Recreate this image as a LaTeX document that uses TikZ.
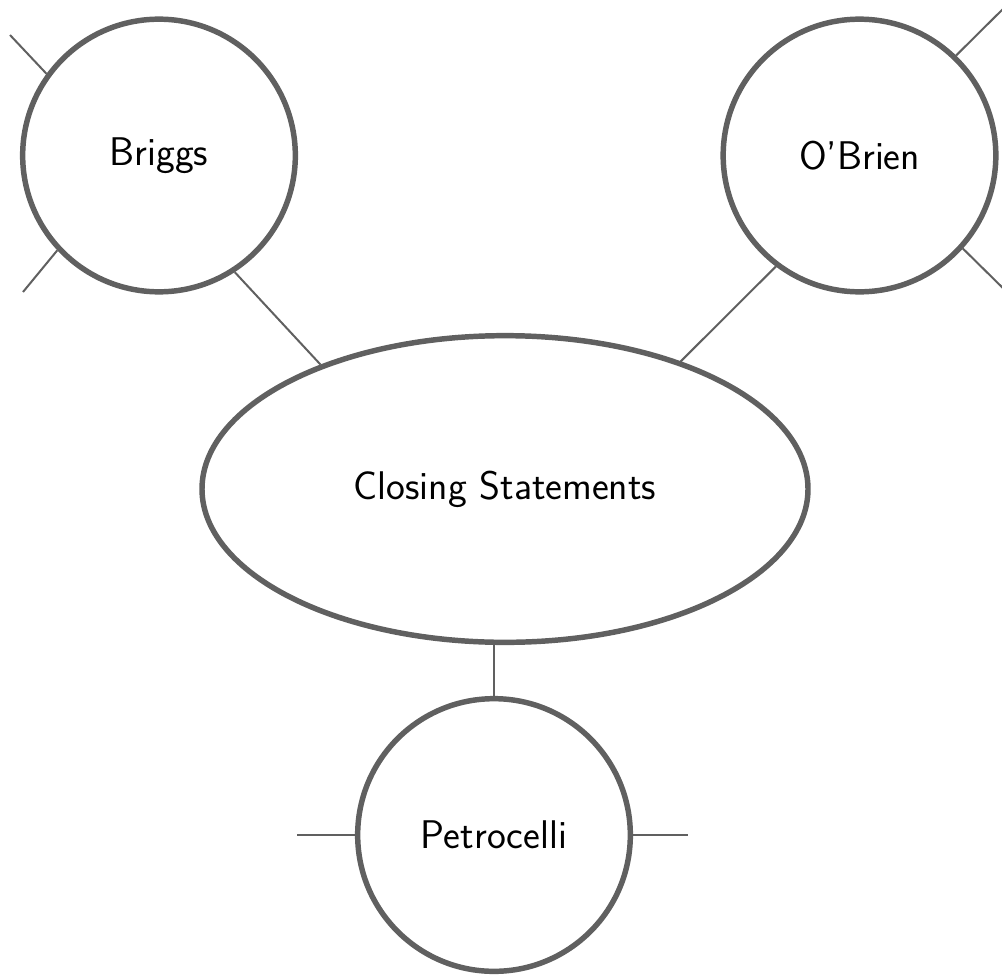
\documentclass[tikz,border=0pt]{standalone}
\usepackage{tikz}
\usetikzlibrary{shapes}
\definecolor{ringgray}{RGB}{96,96,96}

\begin{document}
\begin{tikzpicture}[x=0.75pt, y=-0.75pt,
  person/.style={circle, draw=ringgray, line width=4.1pt, minimum size=204.5pt, inner sep=0pt, font=\fontsize{30}{36}\selectfont\sffamily},
  topic/.style={ellipse, draw=ringgray, line width=4.1pt, minimum width=454.5pt, minimum height=230pt, font=\fontsize{30}{36}\selectfont\sffamily},
  link/.style={draw=ringgray, line width=1.5pt}]
  \useasboundingbox (0,0) rectangle (1002,974);
  \node[topic] (closing) at (505,489) {Closing Statements};
  \node[person] (briggs) at (159,155.5) {Briggs};
  \node[person] (obrien) at (859.5,155.5) {O'Brien};
  \node[person] (petrocelli) at (494,835) {Petrocelli};
  \coordinate (briggs-up) at (10,35);
  \coordinate (briggs-down) at (23,292);
  \coordinate (obrien-up) at (1010,2);
  \coordinate (obrien-down) at (1012,297);
  \coordinate (petrocelli-left) at (297,835);
  \coordinate (petrocelli-right) at (688,835);
  \draw[link] (briggs.-57) -- (closing.146);
  \draw[link] (obrien.-127.7) -- (closing.36);
  \draw[link] (petrocelli.north |- closing.south) -- (petrocelli.north);
  \draw[link] (briggs.144) -- (briggs-up);
  \draw[link] (briggs.223) -- (briggs-down);
  \draw[link] (obrien.46) -- (obrien-up);
  \draw[link] (obrien.-42) -- (obrien-down);
  \draw[link] (petrocelli.west) -- (petrocelli-left);
  \draw[link] (petrocelli.east) -- (petrocelli-right);
\end{tikzpicture}
\end{document}
